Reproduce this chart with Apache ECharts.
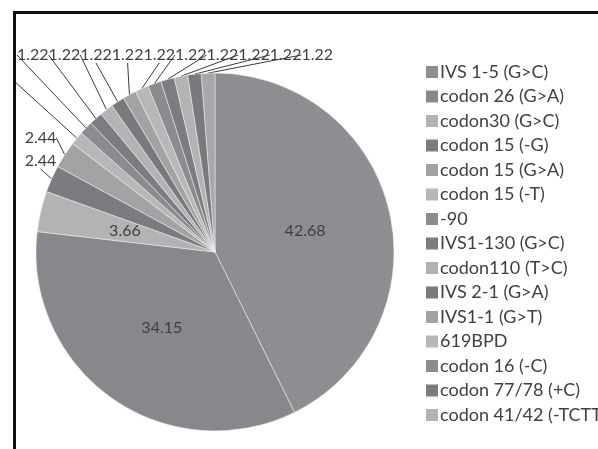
<!DOCTYPE html>
<html>
<head>
<meta charset="utf-8">
<script src="https://cdn.jsdelivr.net/npm/echarts@6/dist/echarts.min.js"></script>
<style>
html, body { margin: 0; padding: 0; background: #fff; overflow: hidden; }
.frame {
  position: absolute;
  left: 13px;
  top: 11px;
  width: 582px;
  height: 435px;
  border-left: 3px solid #111;
  border-top: 3px solid #111;
}
#chart { width: 582px; height: 435px; }
</style>
</head>
<body>
<div class="frame"><div id="chart"></div></div>
<script>
// mutation share (%), clockwise from 12 o'clock
const names = [
  'IVS 1-5 (G>C)', 'codon 26 (G>A)', 'codon30 (G>C)', 'codon 15 (-G)',
  'codon 15 (G>A)', 'codon 15 (-T)', '-90', 'IVS1-130 (G>C)',
  'codon110 (T>C)', 'IVS 2-1 (G>A)', 'IVS1-1 (G>T)', '619BPD',
  'codon 16 (-C)', 'codon 77/78 (+C)', 'codon 41/42 (-TCTT)',
  'other 16', 'other 17'
]
const values = [
  42.68, 34.15, 3.66, 2.44,
  2.44, 1.22, 1.22, 1.22,
  1.22, 1.22, 1.22, 1.22,
  1.22, 1.22, 1.22,
  1.22, 1.22
]
const colors = [
  '#8e8e92', '#88888c', '#b3b3b5', '#7c7c80',
  '#a3a3a6', '#b7b7b9', '#8c8c90', '#7d7d81',
  '#b3b3b5', '#7a7a7e', '#a3a3a6', '#b7b7b9',
  '#8c8c90', '#7d7d81', '#b3b3b5',
  '#7a7a7e', '#a8a8ab'
]
// the legend box only has room for the first 15 entries
const legendNames = names.slice(0, 15)

const chart = echarts.init(document.getElementById('chart'))

const data = names.map((name, i) => {
  const item = { name: name, value: values[i], itemStyle: { color: colors[i] } }
  if (i < 3) {
    item.label = { position: 'inside' }
    item.labelLine = { show: false }
  }
  return item
})

const option = {
  animation: false,
  legend: {
    data: legendNames,
    orient: 'vertical',
    left: 405,
    top: 44,
    icon: 'rect',
    itemWidth: 12,
    itemHeight: 12,
    itemGap: 6.5,
    itemStyle: { borderWidth: 0 },
    textStyle: {
      fontFamily: 'Lato',
      fontSize: 18,
      lineHeight: 18,
      color: '#404040',
      padding: [0, 0, 0, -3]
    }
  },
  series: [{
    type: 'pie',
    center: [199, 238],
    radius: [0, 179],
    startAngle: 90,
    clockwise: true,
    avoidLabelOverlap: false,
    itemStyle: { borderColor: '#f4f4f4', borderWidth: 0.5 },
    emphasis: { disabled: true },
    label: {
      formatter: '{c}',
      fontFamily: 'Lato',
      fontSize: 16,
      color: '#404040'
    },
    labelLine: {
      show: true,
      length: 10,
      length2: 0,
      lineStyle: { color: '#3a3a3a', width: 1 }
    },
    labelLayout: function (p) {
      const i = p.dataIndex
      if (i === 3) return { x: 24.5, y: 147, align: 'center', verticalAlign: 'middle' }
      if (i === 4) return { x: 24.5, y: 124, align: 'center', verticalAlign: 'middle' }
      if (i >= 5) {
        const k = i - 7
        return { x: 16.8 + 31.6 * k, y: 41, align: 'center', verticalAlign: 'middle' }
      }
      return {}
    },
    data: data
  }]
}

chart.setOption(option)
</script>
</body>
</html>
